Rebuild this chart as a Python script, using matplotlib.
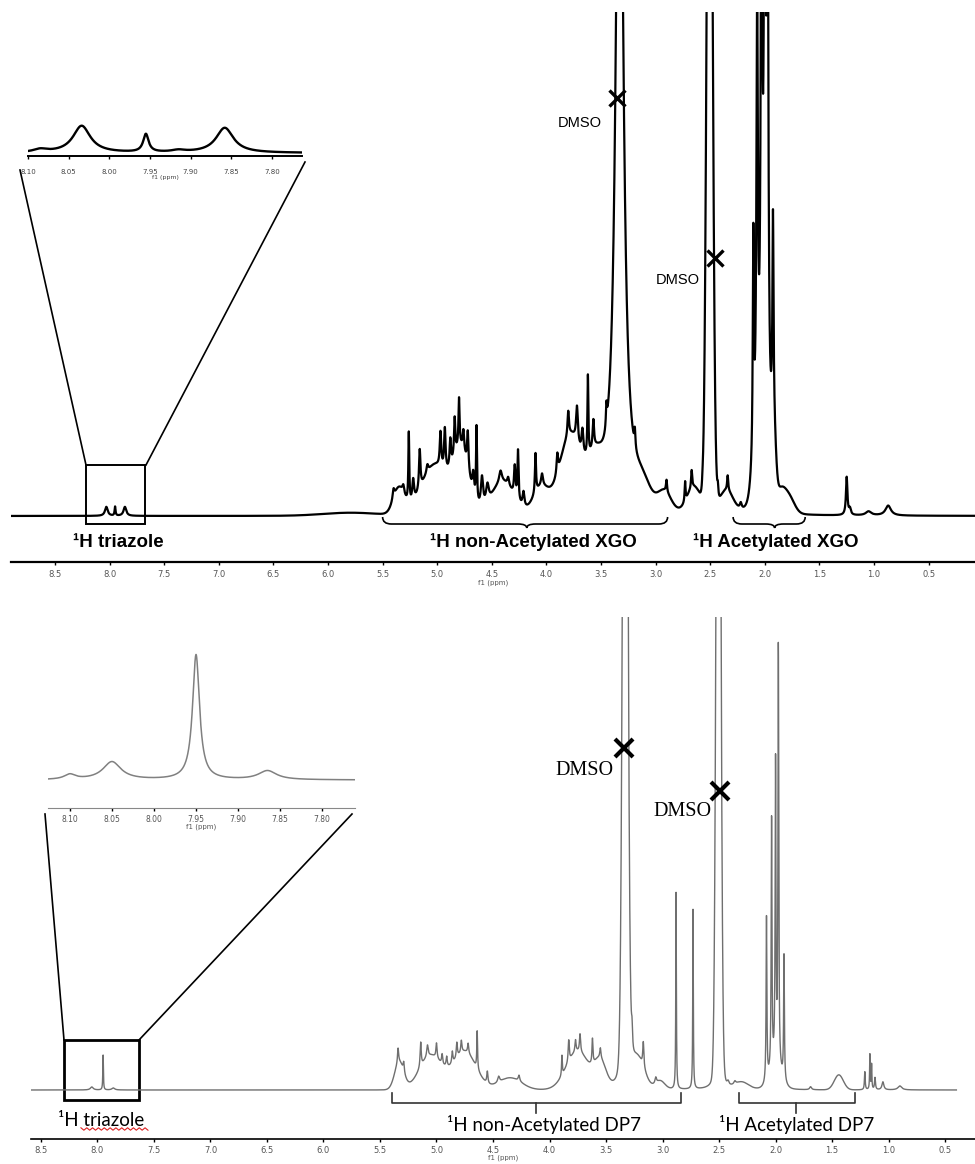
import numpy as np
import matplotlib
matplotlib.use("Agg")
import matplotlib.pyplot as plt
from matplotlib.patches import Rectangle, PathPatch
from matplotlib.path import Path

W, H = 975, 1164

# ---------------- top spectrum (XGO), heights in px above baseline ----------------
# broad envelope (gaussian): centre ppm, height, sigma ppm
top_env_ppm = [5.80, 5.35, 5.02, 4.78, 4.40, 4.05, 3.78, 3.55, 3.12, 2.92, 2.65, 2.35,
               2.00, 2.08, 1.92, 1.85, 1.78, 2.505]
top_env_h = [3, 26, 50, 60, 32, 25, 75, 40, 20, 18, 25, 22,
             100, 45, 60, 15, 16, 960]
top_env_sd = [0.25, 0.05, 0.12, 0.07, 0.10, 0.07, 0.10, 0.07, 0.07, 0.06, 0.06, 0.06,
              0.04, 0.035, 0.02, 0.04, 0.05, 0.024]
# sharp lines (lorentzian): centre ppm, height, half width ppm
top_line_ppm = [8.03, 7.95, 7.86, 5.40, 5.31, 5.26, 5.22, 5.16, 5.09, 4.97, 4.93, 4.88, 4.84, 4.80,
                4.76, 4.72, 4.67, 4.64, 4.59, 4.54, 4.42, 4.35, 4.29, 4.26, 4.21, 4.10, 4.04, 3.90,
                3.80, 3.72, 3.67, 3.62, 3.57, 3.45, 3.33, 3.19, 2.90, 2.73, 2.67, 2.57, 2.505, 2.43,
                2.34, 2.22, 2.105, 2.07, 2.03, 2.00, 1.975, 1.925, 1.25, 1.22, 1.05, 0.87]
top_line_h = [9, 9, 9, 10, 8, 70, 22, 40, 8, 35, 42, 28, 38, 48,
              20, 38, 22, 75, 30, 18, 12, 8, 30, 50, 15, 40, 12, 20,
              25, 36, 25, 80, 28, 22, 865, 18, 12, 20, 18, 5, 30, 12,
              15, 6, 220, 420, 600, 700, 600, 200, 38, 6, 4, 10]
top_line_hw = [0.015, 0.005, 0.015, 0.01, 0.01, 0.005, 0.01, 0.008, 0.01, 0.008, 0.008, 0.008, 0.007, 0.006,
               0.008, 0.008, 0.01, 0.005, 0.012, 0.015, 0.015, 0.01, 0.008, 0.006, 0.01, 0.006, 0.01, 0.008,
               0.008, 0.01, 0.01, 0.005, 0.008, 0.006, 0.0378, 0.006, 0.006, 0.005, 0.006, 0.006, 0.03, 0.006,
               0.006, 0.01, 0.006, 0.008, 0.008, 0.008, 0.008, 0.006, 0.008, 0.01, 0.03, 0.03]

# top inset (triazole region)
top_ins_ppm = [8.085, 8.034, 7.955, 7.915, 7.858]
top_ins_h = [3, 27, 18, 2, 25]
top_ins_hw = [0.01, 0.013, 0.004, 0.01, 0.013]

# ---------------- bottom spectrum (DP7) ----------------
bot_env_ppm = [5.33, 5.05, 4.75, 4.35, 3.75, 3.55, 3.22, 3.02, 2.00, 1.44, 2.30, 3.33, 2.505]
bot_env_h = [27, 34, 38, 12, 38, 25, 28, 8, 22, 15, 7, 1000, 1000]
bot_env_sd = [0.04, 0.10, 0.10, 0.10, 0.10, 0.05, 0.06, 0.04, 0.05, 0.04, 0.06, 0.02, 0.018]
bot_line_ppm = [8.05, 7.95, 7.86, 5.34, 5.29, 5.14, 5.08, 5.00, 4.95, 4.91, 4.86, 4.82, 4.78, 4.72,
                4.64, 4.55, 4.45, 4.27, 3.89, 3.83, 3.77, 3.73, 3.62, 3.55, 3.33, 3.27, 3.17, 3.06,
                2.88, 2.73, 2.505, 2.42, 2.36, 2.08, 2.035, 2.00, 1.975, 1.925, 1.69, 1.21, 1.165,
                1.15, 1.12, 1.05, 0.90]
bot_line_h = [3, 35, 2, 15, 10, 25, 12, 15, 10, 10, 12, 15, 12, 10,
              38, 12, 6, 6, 20, 22, 12, 18, 25, 10, 100, 22, 25, 6,
              197, 180, 60, 4, 3, 165, 250, 300, 420, 125, 3, 18, 35,
              25, 12, 8, 4]
bot_line_hw = [0.015, 0.003, 0.015, 0.006, 0.006, 0.006, 0.008, 0.006, 0.006, 0.006, 0.006, 0.006, 0.006, 0.006,
               0.004, 0.006, 0.01, 0.008, 0.004, 0.006, 0.006, 0.006, 0.005, 0.006, 0.03, 0.006, 0.006, 0.008,
               0.003, 0.003, 0.025, 0.01, 0.01, 0.004, 0.004, 0.004, 0.004, 0.004, 0.01, 0.004, 0.003,
               0.003, 0.005, 0.01, 0.02]

# bottom inset
bot_ins_ppm = [8.10, 8.05, 7.95, 7.865]
bot_ins_h = [5, 18, 125, 9]
bot_ins_hw = [0.008, 0.013, 0.005, 0.013]

main_ticks = [8.5, 8.0, 7.5, 7.0, 6.5, 6.0, 5.5, 5.0, 4.5, 4.0, 3.5, 3.0, 2.5, 2.0, 1.5, 1.0, 0.5]
inset_ticks = [8.10, 8.05, 8.00, 7.95, 7.90, 7.85, 7.80]

# regions marked by braces: start, end, tip (ppm)
top_regions = [(5.50, 2.89, 4.18), (2.29, 1.63, 1.91)]
bot_regions = [(5.39, 2.84, 4.12), (2.32, 1.30, 1.82)]


def build(x, g_c=(), g_h=(), g_s=(), l_c=(), l_h=(), l_w=()):
    y = np.zeros_like(x)
    for c, h, s in zip(g_c, g_h, g_s):
        y += h * np.exp(-0.5 * ((x - c) / s) ** 2)
    for c, h, w in zip(l_c, l_h, l_w):
        y += h / (1 + ((x - c) / w) ** 2)
    return y


fig = plt.figure(figsize=(W / 100, H / 100), dpi=100)


def px_axes(x0, y0, x1, y1):
    return fig.add_axes([x0 / W, 1 - y1 / H, (x1 - x0) / W, (y1 - y0) / H])


def style_axis(ax, ticks, fmt, size, color, lw, pad):
    for s in ["top", "left", "right"]:
        ax.spines[s].set_visible(False)
    ax.spines["bottom"].set_linewidth(lw)
    ax.set_yticks([])
    ax.set_xticks(ticks)
    ax.set_xticklabels([fmt.format(t) for t in ticks])
    ax.tick_params(axis="x", direction="out", length=2, width=1, labelsize=size,
                   labelcolor=color, pad=pad)
    ax.patch.set_alpha(0)


def brace(ax, x0, x1, xt, y_end, y_mid, y_tip, d, lw):
    s = d if xt < x0 else -d
    verts = [(x0, y_end), (x0, y_mid), (x0 - s, y_mid),
             (xt + s, y_mid), (xt, y_mid), (xt, y_tip),
             (xt, y_mid), (xt - s, y_mid),
             (x1 + s, y_mid), (x1, y_mid), (x1, y_end)]
    codes = [Path.MOVETO, Path.CURVE3, Path.CURVE3,
             Path.LINETO, Path.CURVE3, Path.CURVE3,
             Path.CURVE3, Path.CURVE3,
             Path.LINETO, Path.CURVE3, Path.CURVE3]
    ax.add_patch(PathPatch(Path(verts, codes), fill=False, lw=lw, color="black", clip_on=False))


# ---------------- top panel ----------------
ax1 = px_axes(11, 12, 975, 562)
x1 = np.linspace(8.903, 0.075, 16000)
y1 = build(x1, top_env_ppm, top_env_h, top_env_sd, top_line_ppm, top_line_h, top_line_hw)
ax1.plot(x1, y1, color="black", lw=1.6)
ax1.set_xlim(8.903, 0.075)
ax1.set_ylim(-46, 504)
style_axis(ax1, main_ticks, "{:.1f}", 6, "#555555", 1.6, 4)
ax1.set_xlabel("f1 (ppm)", fontsize=5, labelpad=0, color="#555555")

ax1.add_patch(Rectangle((8.216, -8), 7.676 - 8.216, 59, fill=False, lw=1.4, color="black"))
for c, h, w in top_regions:
    brace(ax1, c, h, w, -1, -8, -12, 0.08, 1.2)

lab = dict(fontfamily="Liberation Sans", fontweight="bold", fontsize=13.5, ha="center", va="center")
ax1.text(7.92, -26, "¹H triazole", **lab)
ax1.text(4.12, -26, "¹H non-Acetylated XGO", **lab)
ax1.text(1.90, -26, "¹H Acetylated XGO", **lab)

ax1.plot([3.35, 2.46], [418, 258], "x", color="black", ms=11, mew=2.4)
dm = dict(fontfamily="Liberation Sans", fontsize=10.5, ha="center", va="center")
ax1.text(3.69, 393, "DMSO", **dm)
ax1.text(2.80, 236, "DMSO", **dm)

# top inset
axi1 = px_axes(28, 110, 302, 156)
xi1 = np.linspace(8.10, 7.763, 3000)
yi1 = build(xi1, l_c=top_ins_ppm, l_h=top_ins_h, l_w=top_ins_hw)
axi1.plot(xi1, yi1, color="black", lw=1.7)
axi1.set_xlim(8.10, 7.763)
axi1.set_ylim(-3, 43)
style_axis(axi1, inset_ticks, "{:.2f}", 5, "#444444", 1.4, 7)
axi1.set_xlabel("f1 (ppm)", fontsize=4.5, labelpad=0, color="#444444")

# ---------------- bottom panel ----------------
ax2 = px_axes(31, 617, 975, 1139)
x2 = np.linspace(8.588, 0.40, 16000)
y2 = build(x2, bot_env_ppm, bot_env_h, bot_env_sd, bot_line_ppm, bot_line_h, bot_line_hw)
ax2.plot(x2, y2, color="#6f6f6f", lw=1.0)
ax2.set_xlim(8.588, 0.235)
ax2.set_ylim(-49, 473)
style_axis(ax2, main_ticks, "{:.1f}", 6, "#555555", 1.2, 3)
ax2.set_xlabel("f1 (ppm)", fontsize=5, labelpad=0, color="#555555")

ax2.add_patch(Rectangle((8.296, -10), 7.633 - 8.296, 60, fill=False, lw=2, color="black"))
for a, b, t in bot_regions:
    ax2.plot([a, a, b, b], [-3, -13, -13, -3], color="#333333", lw=1.2, clip_on=False)
    ax2.plot([t, t], [-13, -23], color="#333333", lw=1.2, clip_on=False)

lab2 = dict(fontfamily="Lato", fontsize=13.5, ha="center", va="center")
ax2.text(7.97, -30, "¹H triazole", **lab2)
ax2.text(4.05, -35, "¹H non-Acetylated DP7", **lab2)
ax2.text(1.81, -35, "¹H Acetylated DP7", **lab2)
wx = np.linspace(8.146, 7.553, 24)
wy = -39 + 1.2 * (-1) ** np.arange(24)
ax2.plot(wx, wy, color="#dd2222", lw=0.8, clip_on=False)

ax2.plot([3.34, 2.49], [342, 299], "x", color="black", ms=13, mew=3)
dm2 = dict(fontfamily="Liberation Serif", fontsize=14.5, ha="center", va="center")
ax2.text(3.69, 319, "DMSO", **dm2)
ax2.text(2.82, 278, "DMSO", **dm2)

# bottom inset
axi2 = px_axes(48, 640, 355, 808)
xi2 = np.linspace(8.126, 7.761, 3000)
yi2 = build(xi2, l_c=bot_ins_ppm, l_h=bot_ins_h, l_w=bot_ins_hw)
axi2.plot(xi2, yi2, color="#808080", lw=1.1)
axi2.set_xlim(8.126, 7.761)
axi2.set_ylim(-28, 140)
style_axis(axi2, inset_ticks, "{:.2f}", 5.5, "#555555", 0.8, 3)
axi2.spines["bottom"].set_color("#888888")
axi2.set_xlabel("f1 (ppm)", fontsize=5, labelpad=0, color="#555555")

# ---------------- connector lines (figure pixels) ----------------
ov = fig.add_axes([0, 0, 1, 1])
ov.set_xlim(0, W)
ov.set_ylim(H, 0)
ov.axis("off")
ov.patch.set_alpha(0)
ov.plot([20, 86], [170, 465], color="black", lw=1.2)
ov.plot([305, 146], [162, 465], color="black", lw=1.2)
ov.plot([45, 64], [814, 1040], color="black", lw=1.2)
ov.plot([352, 139], [814, 1040], color="black", lw=1.2)

fig.savefig("out.png", dpi=100)
